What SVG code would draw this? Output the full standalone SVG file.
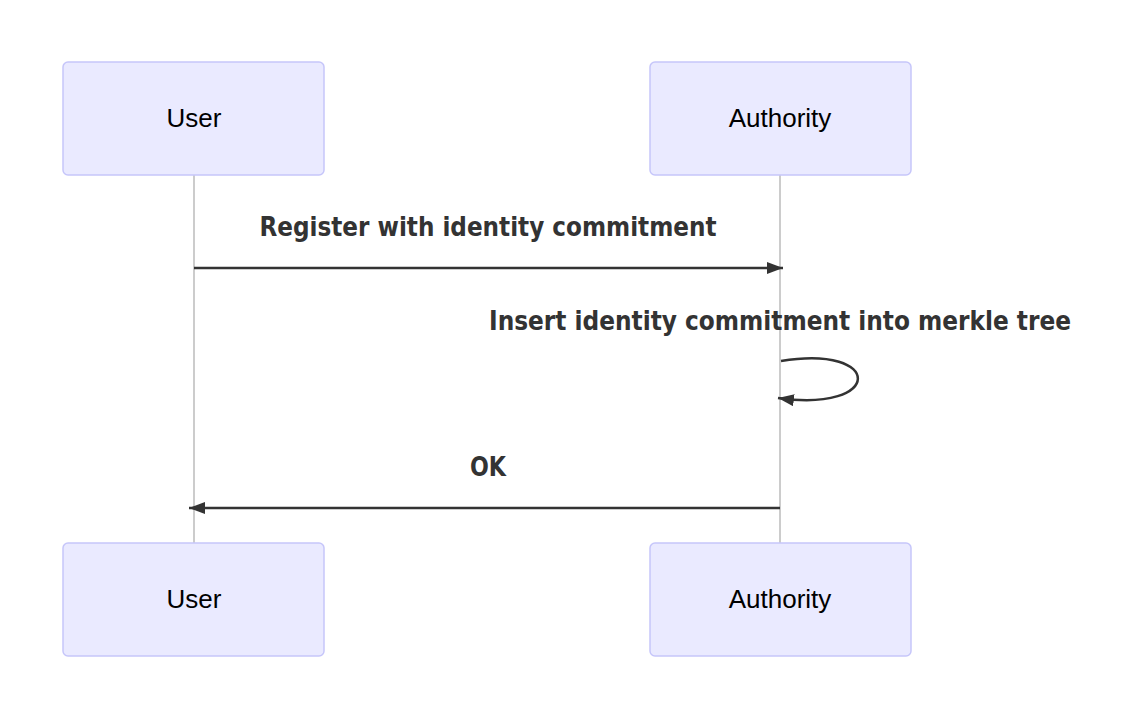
<svg xmlns="http://www.w3.org/2000/svg" width="1121" height="718" viewBox="0 0 1121 718">
<defs>
<style>
.actor{fill:#EAEAFF;stroke:#C6C6FA;stroke-width:1.5}
.atext{font-family:"Liberation Sans",Arial,sans-serif;font-size:26px;fill:#000;text-anchor:middle}
.life{stroke:#999;stroke-width:1;fill:none}
.msg{stroke:#333;stroke-width:2.5;fill:none}
.mtext{font-family:"DejaVu Sans Condensed","DejaVu Sans",sans-serif;font-weight:bold;font-size:26px;fill:#333;text-anchor:middle}
</style>
<marker id="arrow" viewBox="0 0 16 12" refX="16" refY="6" markerWidth="16" markerHeight="12" markerUnits="userSpaceOnUse" orient="auto">
<path d="M0,0 L16,6 L0,12 z" fill="#333"/>
</marker>
</defs>
<rect width="1121" height="718" fill="#fff"/>
<g id="lifelines">
<line class="life" x1="194" y1="175" x2="194" y2="543"/>
<line class="life" x1="780" y1="175" x2="780" y2="543"/>
</g>
<g id="actor-user-top"><rect class="actor" x="63" y="62" width="261" height="113" rx="5"/><text class="atext" x="194" y="127">User</text></g>
<g id="actor-authority-top"><rect class="actor" x="650" y="62" width="261" height="113" rx="5"/><text class="atext" x="780" y="127">Authority</text></g>
<g id="actor-user-bottom"><rect class="actor" x="63" y="543" width="261" height="113" rx="5"/><text class="atext" x="194" y="608">User</text></g>
<g id="actor-authority-bottom"><rect class="actor" x="650" y="543" width="261" height="113" rx="5"/><text class="atext" x="780" y="608">Authority</text></g>
<g id="connectors">
<line class="msg" x1="194" y1="268" x2="783" y2="268" marker-end="url(#arrow)"/>
<path class="msg" d="M781,361 C884,344 884,413 778,398" marker-end="url(#arrow)"/>
<line class="msg" x1="780" y1="508" x2="189" y2="508" marker-end="url(#arrow)"/>
</g>
<g id="labels">
<text class="mtext" x="488" y="236" textLength="457" lengthAdjust="spacingAndGlyphs">Register with identity commitment</text>
<text class="mtext" x="780" y="330" textLength="582" lengthAdjust="spacingAndGlyphs">Insert identity commitment into merkle tree</text>
<text class="mtext" x="488" y="476" textLength="36" lengthAdjust="spacingAndGlyphs">OK</text>
</g>
</svg>
